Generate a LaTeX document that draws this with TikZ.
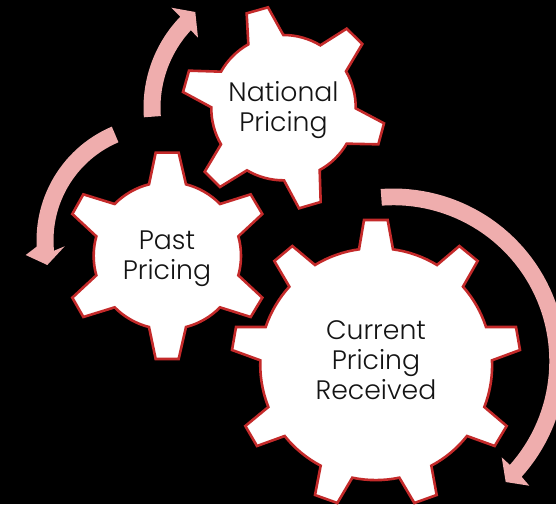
\documentclass[tikz,border=0pt]{standalone}
\usepackage{fontspec}
\setmainfont{Poppins Light}
\definecolor{gearred}{HTML}{C42A2A}
\definecolor{arrowpink}{HTML}{EFADAD}
\tikzset{
  x=1pt,y=-1pt,
  gearshape/.style={draw=gearred,fill=white,line width=2.6pt,line join=miter},
  arrowshape/.style={fill=arrowpink,draw=none},
  gearlabel/.style={align=center,text=black!92,font=\fontsize{26.7}{30}\selectfont,inner sep=0pt,anchor=base},
  sb/.style={bend left=16,looseness=.85},
  lb/.style={bend left=12,looseness=.85},
  zoomed/.style={x=0.33333pt,y=-0.33333pt}
}
\begin{document}
\begin{tikzpicture}
\fill[black] (0,0) rectangle (556,504);
\useasboundingbox (0,0) rectangle (556,504);
% upper arrow
\path[arrowshape] plot[domain=184.2:136,samples=30] ({274.5+131*cos(\x)},{107.7-131*sin(\x)})
  -- (171.3,7.7) -- (195.3,12) -- (198,37.7) -- (190,29.3)
  -- plot[domain=137.2:184.2,samples=30] ({274.5+114*cos(\x)},{107.7-114*sin(\x)}) -- cycle;
% left arrow
\path[arrowshape] plot[domain=113:182.9,samples=30] ({160.1+123.6*cos(\x)},{240.4-123.6*sin(\x)})
  -- (25.7,255) -- (47.3,265) -- (64.7,246.3) -- (53.3,251)
  -- plot[domain=185.6:113,samples=30] ({160.1+106.6*cos(\x)},{240.4-106.6*sin(\x)}) -- cycle;
% large arrow
\path[arrowshape] plot[domain=94.2:-42,samples=60] ({393.3+172.7*cos(\x)},{361.2-172.7*sin(\x)})
  -- (529.3,485.7) -- (505.7,482) -- (501.7,457.3) -- (510,465)
  -- plot[domain=-41.7:94.2,samples=60] ({393.3+156*cos(\x)},{361.2-156*sin(\x)}) -- cycle;
% National gear
\begin{scope}[shift={(130,0)},zoomed]
\path[gearshape] (355,133) -- (350,40) -- (414,22) -- (460,105) to[sb] (571,136)
 -- (650,86) -- (697,132) -- (648,214) to[sb] (677,325)
 -- (762,370) -- (745,433) -- (650,431) to[sb] (569,510)
 -- (572,606) -- (507,625) -- (462,541) to[sb] (351,511)
 -- (270,561) -- (224,515) -- (273,433) to[sb] (244,322)
 -- (159,276) -- (177,212) -- (273,215) to[sb] cycle;
\end{scope}
% Past gear
\begin{scope}[shift={(20,115)},zoomed]
\path[gearshape] (387,208) -- (407,113) -- (476,113) -- (498,208) to[sb] (600,267)
 -- (692,238) -- (727,297) -- (655,364) to[sb] (655,481)
 -- (727,548) -- (692,606) -- (600,577) to[sb] (498,636)
 -- (476,732) -- (407,732) -- (387,636) to[sb] (284,577)
 -- (190,606) -- (157,548) -- (229,481) to[sb] (229,364)
 -- (157,297) -- (190,238) -- (284,267) to[sb] cycle;
\end{scope}
% Current gear
\begin{scope}[shift={(220,180)},zoomed]
\path[gearshape] (417,208) -- (432,120) -- (503,120) -- (519,208) to[lb] (651,255)
 -- (718,198) -- (773,243) -- (729,320) to[lb] (798,441)
 -- (888,441) -- (900,510) -- (816,541) to[lb] (793,681)
 -- (860,738) -- (824,798) -- (741,768) to[lb] (634,857)
 -- (650,945) -- (583,969) -- (538,893) to[lb] (397,893)
 -- (352,969) -- (285,945) -- (302,857) to[lb] (194,768)
 -- (111,798) -- (76,738) -- (145,681) to[lb] (121,541)
 -- (36,510) -- (48,441) -- (137,441) to[lb] (208,320)
 -- (163,243) -- (217,198) -- (285,255) to[lb] cycle;
\end{scope}
\node[gearlabel] (national) at (283.5,131.7) {National\\Pricing};
\node[gearlabel] (past) at (167,279.3) {Past\\Pricing};
\node[gearlabel] (current) at (376,399) {Current\\Pricing\\Received};
\end{tikzpicture}
\end{document}
